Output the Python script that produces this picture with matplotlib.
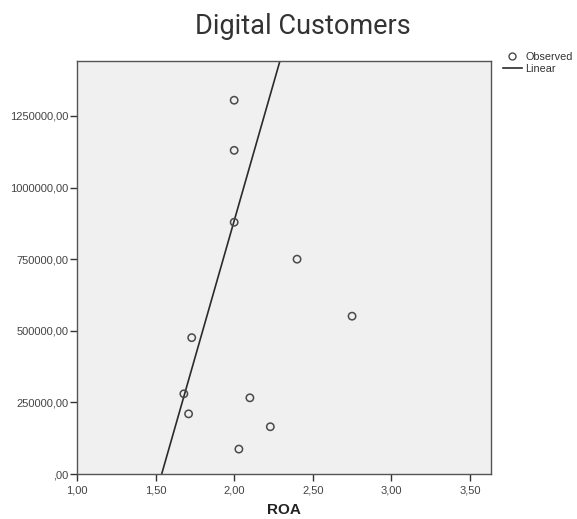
import matplotlib
matplotlib.use("Agg")
import matplotlib.pyplot as plt
from matplotlib.ticker import FuncFormatter, FixedLocator
from matplotlib.lines import Line2D
import numpy as np

# Observed values
roa = [2.00, 2.00, 2.00, 2.40, 2.75, 1.73, 1.68, 1.71, 2.10, 2.23, 2.03]
digital_customers = [1305000, 1130000, 879000, 750000, 551000, 476000,
                     280000, 210000, 266000, 165000, 87000]

# Linear fit coefficients (intercept, slope)
fit_intercept = -2950000.0
fit_slope = 1917000.0

x_ticks = [1.00, 1.50, 2.00, 2.50, 3.00, 3.50]
y_ticks = [0, 250000, 500000, 750000, 1000000, 1250000]
x_limits = (1.0, 3.634)
y_limits = (0, 1442000)


def spss_number(v, _pos=None):
    s = f"{v:.2f}".replace(".", ",")
    if s.startswith("0,"):
        s = s[1:]
    return s


fig = plt.figure(figsize=(5.77, 5.19), dpi=100)
ax = fig.add_axes([0.1334, 0.0867, 0.851 - 0.1334, 0.8825 - 0.0867])
ax.set_facecolor("#F0F0F0")

ax.scatter(roa, digital_customers, s=28, facecolors="none",
           edgecolors="#4a4a4a", linewidths=1.1, zorder=3)

xs = np.array(x_limits)
ax.plot(xs, fit_intercept + fit_slope * xs, color="#2b2b2b", lw=1.2, zorder=2)

ax.set_xlim(*x_limits)
ax.set_ylim(*y_limits)
ax.xaxis.set_major_locator(FixedLocator(x_ticks))
ax.yaxis.set_major_locator(FixedLocator(y_ticks))
ax.xaxis.set_major_formatter(FuncFormatter(spss_number))
ax.yaxis.set_major_formatter(FuncFormatter(spss_number))

for sp in ax.spines.values():
    sp.set_color("#555555")
    sp.set_linewidth(1.0)

ax.tick_params(axis="both", direction="out", length=5, width=1.0,
               color="#333333", labelcolor="#444444", labelsize=8)
ax.tick_params(axis="y", pad=1)
ax.tick_params(axis="x", pad=3)
for lab in ax.get_xticklabels() + ax.get_yticklabels():
    lab.set_fontfamily("Liberation Sans")

ax.set_xlabel("ROA", fontfamily="Liberation Sans", fontweight="bold",
              fontsize=11, color="#222222", labelpad=6)

fig.text(0.525, 1 - 34 / 519, "Digital Customers", ha="center",
         va="baseline", fontfamily="Roboto", fontsize=19.5, color="#333333")

# Legend outside the plot area, top right
handles = [
    Line2D([], [], marker="o", linestyle="none", markerfacecolor="none",
           markeredgecolor="#4a4a4a", markersize=5, markeredgewidth=1.0),
    Line2D([], [], color="#2b2b2b", lw=1.2),
]
fig.legend(handles, ["Observed", "Linear"], loc="upper left",
           bbox_to_anchor=(503 / 577, 1 - 52 / 519), frameon=False,
           prop={"family": "Liberation Sans", "size": 7.8},
           handlelength=1.75, handletextpad=0.3, labelspacing=0.2,
           borderpad=0, borderaxespad=0, labelcolor="#333333")

fig.savefig("out.png", dpi=100, facecolor="white")
